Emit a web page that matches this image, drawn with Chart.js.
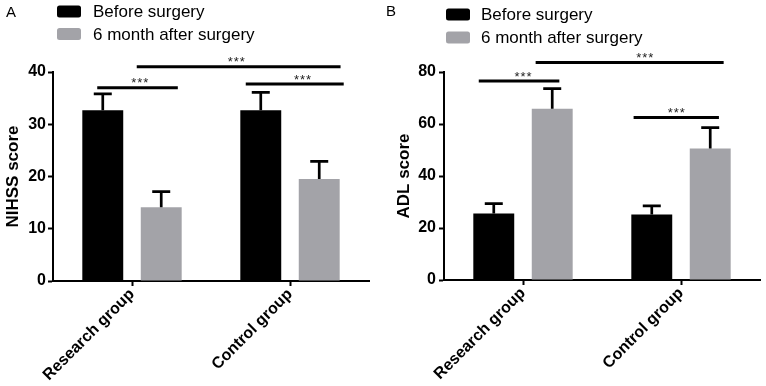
<!DOCTYPE html>
<html>
<head>
<meta charset="utf-8">
<script src="https://cdn.jsdelivr.net/npm/chart.js@4/dist/chart.umd.min.js"></script>
<style>
  html, body { margin: 0; padding: 0; background: #fff; }
  #wrap { position: relative; width: 766px; height: 386px; overflow: hidden; }
  canvas { position: absolute; top: 0; }
</style>
</head>
<body>
<div id="wrap">
  <canvas id="chartA" width="383" height="386" style="left:0"></canvas>
  <canvas id="chartB" width="383" height="386" style="left:383px"></canvas>
</div>
<script>
// ---------- data ----------
const categories = ['Research group', 'Control group'];
const seriesLabels = ['Before surgery', '6 month after surgery'];

const nihssBefore = [32.7, 32.7];
const nihssBeforeErr = [3.1, 3.4];
const nihssAfter = [14.1, 19.5];
const nihssAfterErr = [3.0, 3.4];
const nihssTicks = [0, 10, 20, 30, 40];

const adlBefore = [25.6, 25.2];
const adlBeforeErr = [3.8, 3.3];
const adlAfter = [65.9, 50.6];
const adlAfterErr = [7.7, 8.0];
const adlTicks = [0, 20, 40, 60, 80];

// significance brackets: [from (category units), to, y value, star position]
const nihssBrackets = [[-0.22, 0.29, 37.0, 0.05], [0.03, 1.32, 41.0, 0.66], [0.72, 1.34, 37.7, 1.08]];
const adlBrackets = [[-0.28, 0.23, 76.5, 0.0], [0.08, 1.27, 83.7, 0.77], [0.70, 1.24, 62.5, 0.97]];
const sigLabel = '***';

// ---------- styles ----------
const BLACK = '#000000';
const GRAY = '#a3a3a8';
const FONT = '"Liberation Sans", Arial, Helvetica, sans-serif';

// ---------- plugins ----------
const errorBarPlugin = {
  id: 'errbars',
  afterDatasetsDraw(chart) {
    const ctx = chart.ctx, y = chart.scales.y;
    chart.data.datasets.forEach((ds, di) => {
      const meta = chart.getDatasetMeta(di);
      meta.data.forEach((bar, i) => {
        const top = y.getPixelForValue(ds.data[i] + ds.errors[i]);
        ctx.save();
        ctx.strokeStyle = BLACK;
        ctx.lineWidth = 2.7;
        ctx.lineCap = 'butt';
        ctx.beginPath();
        ctx.moveTo(bar.x, bar.y);
        ctx.lineTo(bar.x, top);
        ctx.moveTo(bar.x - 9, top);
        ctx.lineTo(bar.x + 9, top);
        ctx.stroke();
        ctx.restore();
      });
    });
  }
};

const bracketPlugin = {
  id: 'brackets',
  afterDraw(chart, args, opts) {
    const ctx = chart.ctx, x = chart.scales.x, y = chart.scales.y;
    const p0 = x.getPixelForValue(0), p1 = x.getPixelForValue(1);
    const cx = v => p0 + v * (p1 - p0);
    ctx.save();
    (opts.items || []).forEach(b => {
      const yy = y.getPixelForValue(b[2]);
      ctx.strokeStyle = BLACK;
      ctx.lineWidth = 3;
      ctx.beginPath();
      ctx.moveTo(cx(b[0]), yy);
      ctx.lineTo(cx(b[1]), yy);
      ctx.stroke();
      ctx.fillStyle = '#222';
      ctx.font = '13px ' + FONT;
      ctx.textAlign = 'center';
      ctx.textBaseline = 'middle';
      const sx = cx(b[3]);
      const chars = sigLabel.split('');
      chars.forEach((c, k) => ctx.fillText(c, sx + (k - (chars.length - 1) / 2) * 6, yy - 4));
    });
    ctx.restore();
  }
};

const panelPlugin = {
  id: 'panel',
  afterDraw(chart, args, o) {
    const ctx = chart.ctx;
    ctx.save();
    ctx.fillStyle = BLACK;
    ctx.font = '15px ' + FONT;
    ctx.textAlign = 'left';
    ctx.textBaseline = 'alphabetic';
    ctx.fillText(o.letter, o.letterX, o.letterY);
    chart.data.datasets.forEach((ds, i) => {
      const cy = o.rowY[i];
      ctx.fillStyle = ds.backgroundColor;
      ctx.beginPath();
      if (ctx.roundRect) ctx.roundRect(o.boxX, cy - 6, 24, 12, 2.5); else ctx.rect(o.boxX, cy - 6, 24, 12);
      ctx.fill();
      ctx.fillStyle = BLACK;
      ctx.font = '17px ' + FONT;
      ctx.textBaseline = 'middle';
      ctx.fillText(ds.label, o.textX, cy + 1);
    });
    ctx.restore();
  }
};

function makeChart(id, before, beforeErr, after, afterErr, ticks, title, brackets, lay) {
  return new Chart(document.getElementById(id), {
    type: 'bar',
    data: {
      labels: categories,
      datasets: [
        { label: seriesLabels[0], data: before, errors: beforeErr, backgroundColor: BLACK, borderWidth: 0 },
        { label: seriesLabels[1], data: after, errors: afterErr, backgroundColor: GRAY, borderWidth: 0 }
      ]
    },
    options: {
      responsive: false,
      animation: false,
      devicePixelRatio: 1,
      categoryPercentage: 0.74,
      barPercentage: 0.7,
      layout: { padding: { top: lay.top, right: lay.right, left: 0, bottom: 0 } },
      plugins: {
        legend: { display: false },
        tooltip: { enabled: false },
        brackets: { items: brackets },
        panel: lay.panel
      },
      scales: {
        x: {
          offset: true,
          grid: { display: true, offset: false, drawOnChartArea: false, drawTicks: true, tickLength: 5, tickWidth: 2, tickColor: BLACK },
          border: { display: true, color: BLACK, width: 2 },
          ticks: { minRotation: 45, maxRotation: 45, color: BLACK, padding: -1, font: { family: FONT, size: 16, weight: 'bold' } },
          afterFit(s) { s.height = lay.xHeight; }
        },
        y: {
          min: ticks[0],
          max: ticks[ticks.length - 1],
          afterBuildTicks(s) { s.ticks = ticks.map(v => ({ value: v })); },
          grid: { display: true, drawOnChartArea: false, drawTicks: true, tickLength: 5, tickWidth: 2, tickColor: BLACK },
          border: { display: true, color: BLACK, width: 2 },
          ticks: { color: BLACK, padding: lay.tickPad, font: { family: FONT, size: 16, weight: 'bold' } },
          title: { display: true, text: title, color: BLACK, font: { family: FONT, size: 17, weight: 'bold' }, padding: { top: lay.titlePad, bottom: 0 } },
          afterFit(s) { s.width = lay.yWidth; }
        }
      }
    },
    plugins: [errorBarPlugin, bracketPlugin, panelPlugin]
  });
}

makeChart('chartA', nihssBefore, nihssBeforeErr, nihssAfter, nihssAfterErr, nihssTicks, 'NIHSS score', nihssBrackets,
  { top: 72, right: 14, xHeight: 105, yWidth: 53, tickPad: 2, titlePad: 3,
    panel: { letter: 'A', letterX: 6, letterY: 17, boxX: 57, rowY: [11.5, 34], textX: 93 } });

makeChart('chartB', adlBefore, adlBeforeErr, adlAfter, adlAfterErr, adlTicks, 'ADL score', adlBrackets,
  { top: 72, right: 6, xHeight: 106, yWidth: 61, tickPad: 3, titlePad: 11,
    panel: { letter: 'B', letterX: 3, letterY: 16, boxX: 63, rowY: [14.5, 37.5], textX: 98 } });
</script>
</body>
</html>
